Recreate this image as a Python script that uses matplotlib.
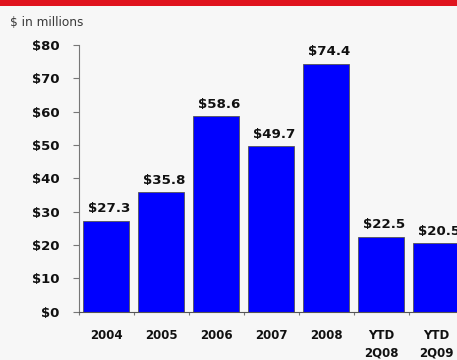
import matplotlib
matplotlib.use("Agg")
import matplotlib.pyplot as plt
import numpy as np

categories = ["2004", "2005", "2006", "2007", "2008", "YTD\n2Q08", "YTD\n2Q09"]
values = [27.3, 35.8, 58.6, 49.7, 74.4, 22.5, 20.5]
y_ticks = [0, 10, 20, 30, 40, 50, 60, 70, 80]
y_tick_labels = ["$0", "$10", "$20", "$30", "$40", "$50", "$60", "$70", "$80"]

plt.rcParams['font.family'] = ['DejaVu Sans']

bg = "#f7f7f7"
fig = plt.figure(figsize=(4.57, 3.6), dpi=100, facecolor=bg)

# red banner along the top edge
fig.patches.append(plt.Rectangle((0, 1 - 6 / 360), 1, 6 / 360, transform=fig.transFigure,
                                 facecolor="#e0141e", edgecolor="none"))
fig.text(10 / 457, 1 - 22 / 360, "$ in millions", fontsize=8.7, color="#3a3a3a",
         ha="left", va="center")

ax = fig.add_axes([78.5 / 457, (360 - 311.7) / 360, 385 / 457, 266.7 / 360])
ax.set_facecolor(bg)

x = np.arange(len(categories))
ax.bar(x, values, width=0.85, color="#0000ff", edgecolor="#555555", linewidth=0.6)
for xi, v in zip(x, values):
    ax.text(xi + 0.05, v + 1.6, f"${v}", ha="center", va="bottom", fontsize=9.6,
            fontweight="bold", color="#111111")

ax.set_xlim(-0.5, len(categories) - 0.5)
ax.set_ylim(0, 80)
ax.set_yticks(y_ticks)
ax.set_yticklabels(y_tick_labels, fontsize=9.5, fontweight="bold", color="#111111")
ax.tick_params(axis="y", direction="out", length=4.3, width=0.8, color="#777777", pad=9.6)

ax.set_xticks(x)
ax.set_xticklabels(categories, fontsize=8.5, fontweight="bold", color="#111111",
                   linespacing=1.45, va="top")
ax.tick_params(axis="x", which="major", length=0, pad=12.5)
ax.set_xticks(np.arange(-0.5, len(categories), 1.0), minor=True)
ax.tick_params(axis="x", which="minor", direction="out", length=2.5, width=0.8, color="#777777")

for side in ("top", "right"):
    ax.spines[side].set_visible(False)
ax.spines["left"].set_color("#777777")
ax.spines["bottom"].set_color("#555555")
ax.spines["left"].set_linewidth(0.8)
ax.spines["bottom"].set_linewidth(0.8)

fig.savefig("out.png", dpi=100, facecolor=bg)
